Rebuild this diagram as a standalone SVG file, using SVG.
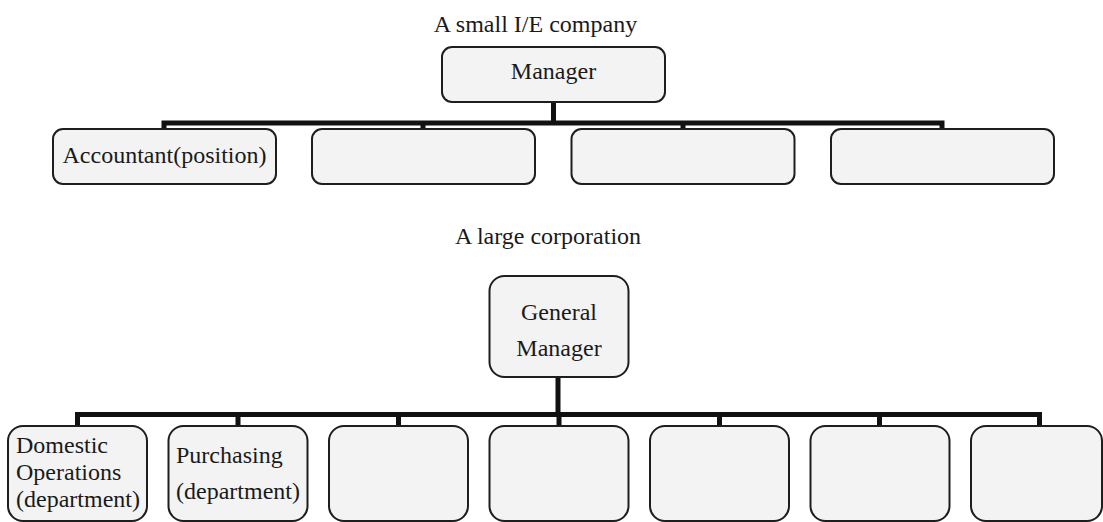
<svg xmlns="http://www.w3.org/2000/svg" width="1103" height="522" viewBox="0 0 1103 522">
<style>
.box{fill:#f3f3f3;stroke:#1e1e1e;stroke-width:2}
.t{font-family:"Liberation Serif","Times New Roman",serif;font-size:24px;fill:#1a1a1a}
.c{text-anchor:middle}
.conn{fill:none;stroke:#111;stroke-width:5;stroke-linejoin:miter}
</style>
<rect width="1103" height="522" fill="#ffffff"/>
<text class="t c" x="535.5" y="32">A small I/E company</text>
<text class="t c" x="548" y="244">A large corporation</text>
<g id="connectors">
<path class="conn" d="M164,129 V123 H942 V129"/>
<path class="conn" d="M423,123 V129 M683,123 V129 M553.5,102 V123"/>
<path class="conn" d="M77.5,426 V414.5 H1039.5 V426"/>
<path class="conn" d="M238,414.5 V426 M398.5,414.5 V426 M559,414.5 V426 M719.5,414.5 V426 M879.5,414.5 V426 M558,377 V414.5"/>
</g>
<g id="manager"><rect class="box" x="442" y="47" width="223" height="55" rx="10"/><text class="t c" x="553.5" y="79">Manager</text></g>
<g id="accountant"><rect class="box" x="53" y="129" width="223" height="55" rx="10"/><text class="t c" x="164.5" y="163">Accountant(position)</text></g>
<g id="top2"><rect class="box" x="312" y="129" width="223" height="55" rx="10"/></g>
<g id="top3"><rect class="box" x="571.5" y="129" width="223" height="55" rx="10"/></g>
<g id="top4"><rect class="box" x="831" y="129" width="223" height="55" rx="10"/></g>
<g id="general-manager"><rect class="box" x="489.5" y="276" width="139" height="101" rx="15"/><text class="t c" x="559" y="320">General</text><text class="t c" x="559" y="356">Manager</text></g>
<g id="domestic"><rect class="box" x="8" y="426" width="139" height="95" rx="15"/><text class="t" x="16" y="453">Domestic</text><text class="t" x="16" y="480">Operations</text><text class="t" x="16" y="507">(department)</text></g>
<g id="purchasing"><rect class="box" x="168.5" y="426" width="139" height="95" rx="15"/><text class="t" x="176" y="463">Purchasing</text><text class="t" x="176" y="499">(department)</text></g>
<g id="dept3"><rect class="box" x="329" y="426" width="139" height="95" rx="15"/></g>
<g id="dept4"><rect class="box" x="489.5" y="426" width="139" height="95" rx="15"/></g>
<g id="dept5"><rect class="box" x="650" y="426" width="139" height="95" rx="15"/></g>
<g id="dept6"><rect class="box" x="810.5" y="426" width="139" height="95" rx="15"/></g>
<g id="dept7"><rect class="box" x="971" y="426" width="131" height="95" rx="15"/></g>
</svg>
